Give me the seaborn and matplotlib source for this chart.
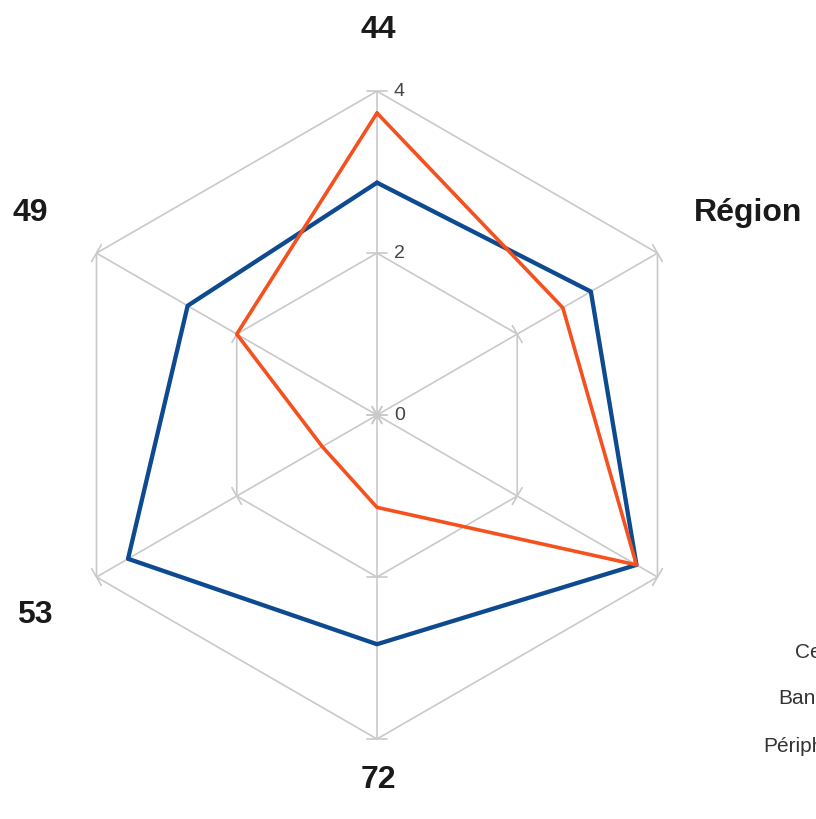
import matplotlib
matplotlib.use('Agg')
import matplotlib.pyplot as plt
import matplotlib.transforms as mtransforms
import seaborn as sns
import numpy as np
import pandas as pd


# axes of the radar, clockwise from the top (lower right label is hidden)
categories = ['44', 'Région', '', '72', '53', '49']
blue_values = [2.87, 3.05, 3.7, 2.83, 3.55, 2.7]
orange_values = [3.73, 2.65, 3.7, 1.14, 0.78, 2.0]
scale_ticks = [0, 2, 4]
legend_labels = ['Centre', 'Banlieue', 'Périphérie']

BLUE = '#0d4a90'
ORANGE = '#f4511e'
GRID = '#c9c9c9'
RMAX = 4


def configure_plot_style(style='white'):
    sns.set_theme(style=style)
    plt.rcParams['font.family'] = ['Liberation Sans', 'DejaVu Sans']


def closed(values, end=None):
    return list(values) + [values[0] if end is None else end]


def draw_grid(ax, angles):
    # hexagonal rings + spokes, the way the reference draws them
    for r in [2, 4]:
        ax.plot(closed(angles, 2 * np.pi), [r] * (len(angles) + 1),
                color=GRID, lw=1.2, zorder=1)
    for a in angles:
        ax.plot([a, a], [0, RMAX], color=GRID, lw=1.2, zorder=1)
        for r in [0, 2, 4]:
            h = 0.12
            rr = np.hypot(r, h)
            da = np.arctan2(h, r)
            ax.plot([a - da, a + da], [rr, rr], color=GRID, lw=1.2,
                    zorder=1, clip_on=False)


configure_plot_style()
fig = plt.figure(figsize=(8.16, 8.2), dpi=100)
ax = fig.add_axes([0.065, 0.0976, 0.794, 0.790], projection='polar')
ax.set_theta_zero_location('N')
ax.set_theta_direction(-1)

angles = list(np.deg2rad(np.arange(0, 360, 360 / len(categories))))
draw_grid(ax, angles)

df = pd.DataFrame({
    'angle': closed(angles, 2 * np.pi) * 2,
    'value': closed(blue_values) + closed(orange_values),
    'serie': ['bleu'] * 7 + ['orange'] * 7,
})
for name, color, lw in [('bleu', BLUE, 3.1), ('orange', ORANGE, 2.6)]:
    sns.lineplot(data=df[df['serie'] == name], x='angle', y='value',
                 sort=False, estimator=None, color=color, linewidth=lw,
                 ax=ax, zorder=3, legend=False)

ax.set_ylim(0, RMAX)
ax.grid(False)
ax.spines['polar'].set_visible(False)
ax.set_xticks([])
ax.set_yticks([])
ax.set_xlabel('')
ax.set_ylabel('')
ax.set_facecolor('white')

tick_tr = mtransforms.offset_copy(ax.transData, fig=fig, x=17, y=1, units='dots')
for t in scale_ticks:
    ax.text(0, t, str(t), fontsize=14, color='#444444', ha='left',
            va='center', zorder=4, transform=tick_tr)

label_pos = [(378, 30), (748, 213), (745, 615), (378, 780), (35, 615), (30, 213)]
for cat, (px, py) in zip(categories, label_pos):
    fig.text(px / 816, 1 - py / 820, cat, fontsize=23, fontweight='bold',
             color='#1a1a1a', ha='center', va='center')

legend_pos = [(795, 652), (778, 699), (763, 747)]
for lab, (px, py) in zip(legend_labels, legend_pos):
    fig.text(px / 816, 1 - py / 820, lab, fontsize=15, color='#333333',
             ha='left', va='center')

fig.savefig('out.png', dpi=100, facecolor='white')
